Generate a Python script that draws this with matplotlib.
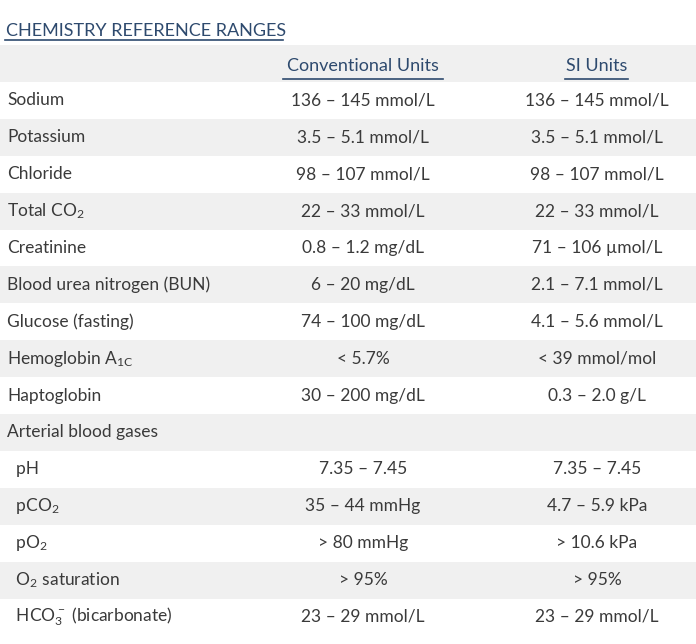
import matplotlib
matplotlib.use("Agg")
import matplotlib.pyplot as plt
from matplotlib.patches import Rectangle

plt.rcParams['mathtext.fontset'] = 'custom'
plt.rcParams['mathtext.rm'] = 'Lato'
plt.rcParams['mathtext.default'] = 'regular'

title = "CHEMISTRY REFERENCE RANGES"
col_headers = ["Conventional Units", "SI Units"]
analytes = ["Sodium", "Potassium", "Chloride", "Total CO$_2$", "Creatinine",
            "Blood urea nitrogen (BUN)", "Glucose (fasting)", "Hemoglobin A$_{1C}$",
            "Haptoglobin", "Arterial blood gases", "  pH", "  pCO$_2$", "  pO$_2$",
            "  O$_2$ saturation", "  HCO$_3^-$ (bicarbonate)"]
conventional = ["136 – 145 mmol/L", "3.5 – 5.1 mmol/L", "98 – 107 mmol/L", "22 – 33 mmol/L",
                "0.8 – 1.2 mg/dL", "6 – 20 mg/dL", "74 – 100 mg/dL", "< 5.7%",
                "30 – 200 mg/dL", "", "7.35 – 7.45", "35 – 44 mmHg", "> 80 mmHg",
                "> 95%", "23 – 29 mmol/L"]
si_units = ["136 – 145 mmol/L", "3.5 – 5.1 mmol/L", "98 – 107 mmol/L", "22 – 33 mmol/L",
            "71 – 106 µmol/L", "2.1 – 7.1 mmol/L", "4.1 – 5.6 mmol/L", "< 39 mmol/mol",
            "0.3 – 2.0 g/L", "", "7.35 – 7.45", "4.7 – 5.9 kPa", "> 10.6 kPa",
            "> 95%", "23 – 29 mmol/L"]

W, H = 696, 644
fig = plt.figure(figsize=(W/100, H/100), dpi=100)
ax = fig.add_axes([0, 0, 1, 1])
ax.set_xlim(0, W); ax.set_ylim(H, 0); ax.axis('off')

txt = "#3a3a3a"; navy = "#2e4a6e"; grey = "#f0f0f0"
font = "Lato"
row_h = 36.9
top = 45
x_conv, x_si = 363, 597

ax.text(6, 31, title, fontsize=13, color=navy, fontfamily=font, va='center', ha='left')
ax.plot([5, 283], [40, 40], color=navy, lw=1.2)

ax.add_patch(Rectangle((0, top), W, row_h, color=grey, lw=0))
ax.text(x_conv, top + row_h/2 + 3, col_headers[0], fontsize=13, color=navy, fontfamily=font, ha='center', va='center')
ax.plot([283, 443], [top + row_h - 3, top + row_h - 3], color=navy, lw=1.2)
ax.text(x_si, top + row_h/2 + 3, col_headers[1], fontsize=13, color=navy, fontfamily=font, ha='center', va='center')
ax.plot([565, 628], [top + row_h - 3, top + row_h - 3], color=navy, lw=1.2)

for i, (a, c, s) in enumerate(zip(analytes, conventional, si_units)):
    y0 = top + row_h * (i + 1)
    if i % 2 == 1:
        ax.add_patch(Rectangle((0, y0), W, row_h, color=grey, lw=0))
    yc = y0 + row_h/2
    ax.text(7, yc, a, fontsize=12.5, color=txt, fontfamily=font, ha='left', va='center')
    ax.text(x_conv, yc, c, fontsize=12.5, color=txt, fontfamily=font, ha='center', va='center')
    ax.text(x_si, yc, s, fontsize=12.5, color=txt, fontfamily=font, ha='center', va='center')

fig.savefig("out.png", dpi=100, facecolor='white')
